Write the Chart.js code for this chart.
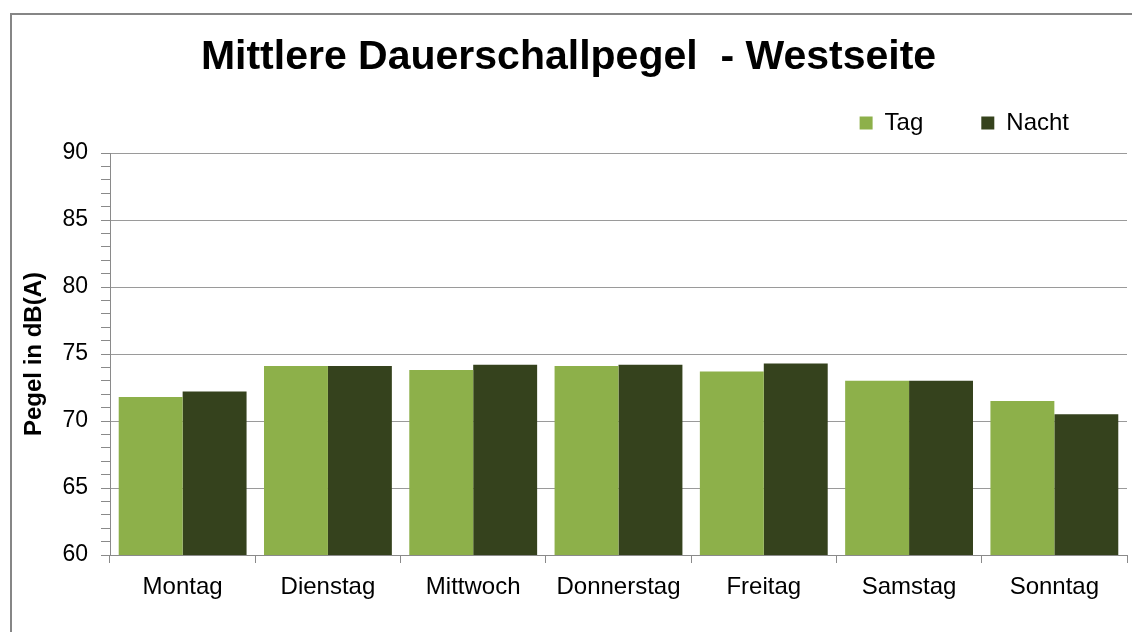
<!DOCTYPE html>
<html lang="de">
<head>
<meta charset="utf-8">
<title>Mittlere Dauerschallpegel - Westseite</title>
<script src="https://cdn.jsdelivr.net/npm/chart.js@4/dist/chart.umd.min.js"></script>
<style>
    html, body { margin: 0; padding: 0; background: #fff; overflow: hidden; }
    #wrap { position: relative; width: 1132px; height: 632px; }
    #frame {
        position: absolute; left: 10px; top: 13px; width: 1200px; height: 700px;
        border-left: 2px solid #868686; border-top: 2px solid #868686;
    }
    #chart { position: absolute; left: 0; top: 0; }
</style>
</head>
<body>
<div id="wrap">
    <div id="frame"></div>
    <canvas id="chart" width="1132" height="632"></canvas>
</div>
<script>
// --- DATA ---
const days = ['Montag', 'Dienstag', 'Mittwoch', 'Donnerstag', 'Freitag', 'Samstag', 'Sonntag'];
const tagValues = [71.8, 74.1, 73.8, 74.1, 73.7, 73.0, 71.5];
const nachtValues = [72.2, 74.1, 74.2, 74.2, 74.3, 73.0, 70.5];
const yMin = 60;
const yMax = 90;
const yMajorStep = 5;

const font = 'Liberation Sans, Arial, sans-serif';
const axisGray = '#8a8a8a';

// nudge legend a little upwards (Excel puts it closer to the title)
const legendNudge = {
    id: 'legendNudge',
    afterLayout(chart) {
        chart.legend.top -= 8;
        chart.legend.bottom -= 8;
    }
};

new Chart(document.getElementById('chart'), {
    type: 'bar',
    data: {
        labels: days,
        datasets: [
            { label: 'Tag', data: tagValues, backgroundColor: '#8db04a' },
            { label: 'Nacht', data: nachtValues, backgroundColor: '#35421d' }
        ]
    },
    options: {
        responsive: false,
        devicePixelRatio: 1,
        animation: false,
        layout: { padding: { left: 10, right: 5, top: 13, bottom: 0 } },
        datasets: {
            bar: { categoryPercentage: 0.88, barPercentage: 1.0 }
        },
        plugins: {
            title: {
                display: true,
                text: 'Mittlere Dauerschallpegel  - Westseite',
                color: '#000',
                font: { family: font, size: 41, weight: 'bold', lineHeight: 1 },
                // legend padding is large, so pull it up under the title
                padding: { top: 24, bottom: -17 }
            },
            legend: {
                position: 'top',
                align: 'end',
                labels: {
                    color: '#000',
                    font: { family: font, size: 24 },
                    boxWidth: 13,
                    boxHeight: 13,
                    padding: 58
                }
            },
            tooltip: { enabled: false }
        },
        scales: {
            x: {
                offset: true,
                afterFit: s => { s.height = 77; },
                border: { color: axisGray },
                grid: {
                    offset: true,
                    drawOnChartArea: false,
                    tickLength: 8,
                    tickColor: axisGray
                },
                ticks: {
                    color: '#000',
                    font: { family: font, size: 24 },
                    padding: 10
                }
            },
            y: {
                min: yMin,
                max: yMax,
                afterFit: s => { s.width = 100; },
                border: { color: axisGray },
                grid: {
                    tickLength: 9,
                    tickColor: axisGray,
                    color: ctx => (ctx.tick && ctx.tick.value % yMajorStep === 0) ? '#9a9a9a' : 'rgba(0,0,0,0)'
                },
                ticks: {
                    stepSize: 1,
                    autoSkip: false,
                    color: '#000',
                    font: { family: font, size: 23 },
                    padding: 13,
                    callback: v => (v % yMajorStep === 0 ? v : '')
                },
                title: {
                    display: true,
                    text: 'Pegel in dB(A)',
                    color: '#000',
                    font: { family: font, size: 24, weight: 'bold' },
                    padding: { top: 10 }
                }
            }
        }
    },
    plugins: [legendNudge]
});
</script>
</body>
</html>
